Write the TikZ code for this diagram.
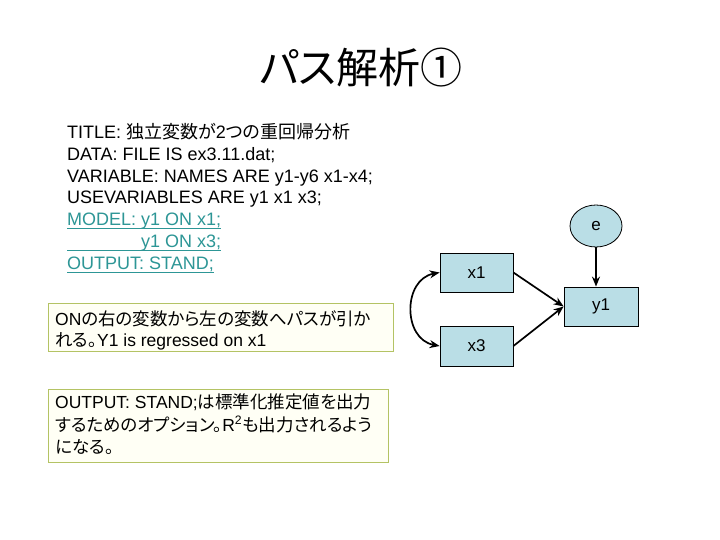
\documentclass[tikz,border=0pt]{standalone}
\usepackage{fontspec}
\setmainfont{Liberation Sans}
\newfontfamily\jp[RawFeature=+palt]{Noto Sans CJK JP}
\usetikzlibrary{arrows.meta,shapes.geometric}
\definecolor{tealtxt}{RGB}{45,150,150}
\definecolor{olivebd}{RGB}{180,195,100}
\definecolor{creamfill}{RGB}{255,255,245}
\definecolor{nodefill}{RGB}{186,222,230}
\newcommand\jtxt[1]{{\jp #1}}
\newsavebox\ulbox
\newcommand\myul[1]{\sbox\ulbox{#1}\rlap{\rule[-3.5pt]{\wd\ulbox}{1pt}}\usebox\ulbox}
\begin{document}
\begin{tikzpicture}[x=1pt,y=-1pt,
  codeline/.style={anchor=base west,inner sep=0pt,font=\fontsize{18}{21}\selectfont},
  boxline/.style={anchor=base west,inner sep=0pt,font=\fontsize{17.5}{21}\selectfont},
  notebox/.style={draw=olivebd,fill=creamfill,line width=1pt,inner sep=0pt},
  varbox/.style={draw=black,fill=nodefill,line width=0.8pt,inner sep=0pt,font=\fontsize{17}{20}\selectfont},
  pathar/.style={line width=1.7pt,-{Stealth[length=10pt,width=8pt]}},
  corar/.style={line width=1.7pt,{Stealth[length=10pt,width=8pt]}-{Stealth[length=10pt,width=8pt]}}]
\useasboundingbox (0,0) rectangle (720,540);
\fill[white] (0,0) rectangle (720,540);

\node[font=\jp\fontsize{42}{42}\selectfont] (title) at (361,68) {パス解析①};

\node[codeline] (l1) at (67,138.5) {TITLE: \jtxt{独立変数が}2\jtxt{つの重回帰分析}};
\node[codeline] (l2) at (67,160.3) {DATA: FILE IS ex3.11.dat;};
\node[codeline] (l3) at (67,182.1) {VARIABLE: NAMES ARE y1-y6 x1-x4;};
\node[codeline] (l4) at (67,203.9) {USEVARIABLES ARE y1 x1 x3;};
\node[codeline,text=tealtxt] (l5) at (67,225.7) {\myul{MODEL: y1 ON x1;}};
\node[codeline,text=tealtxt] (l6) at (67,247.5) {\myul{\hphantom{MODEL:\ }y1 ON x3;}};
\node[codeline,text=tealtxt] (l7) at (67,269.3) {\myul{OUTPUT: STAND;}};

\node[notebox,minimum width=345pt,minimum height=48pt] (box1) at (220.5,327) {};
\node[boxline] (b1a) at (55,325) {ON\jtxt{の右の変数から左の変数へパスが引か}};
\node[boxline] (b1b) at (55,346) {\jtxt{れる。}Y1 is regressed on x1};

\node[notebox,minimum width=340pt,minimum height=73pt] (box2) at (218,425.5) {};
\node[boxline] (b2a) at (55,408) {OUTPUT: STAND;\jtxt{は標準化推定値を出力}};
\node[boxline] (b2b) at (55,431) {\jtxt{するためのオプション。}R\textsuperscript{2}\jtxt{も出力されるよう}};
\node[boxline] (b2c) at (55,453) {\jtxt{になる。}};

\node[varbox,minimum width=73pt,minimum height=39pt] (x1) at (476.5,272.5) {x1};
\node[varbox,minimum width=73pt,minimum height=40pt] (x3) at (476.5,346) {x3};
\node[varbox,minimum width=74pt,minimum height=39pt] (y1) at (601,306.5) {y1};
\node[varbox,ellipse,minimum width=52pt,minimum height=42pt] (e) at (596,226) {e};

\draw[pathar] (x1.east) -- (y1.west);
\draw[pathar] (x3.east) -- (y1.west);
\draw[pathar] (e.south) -- (e.south |- y1.north);
\draw[corar] (x1.west) .. controls +(-37,7) and +(-37,-7) .. (x3.west);
\end{tikzpicture}
\end{document}
